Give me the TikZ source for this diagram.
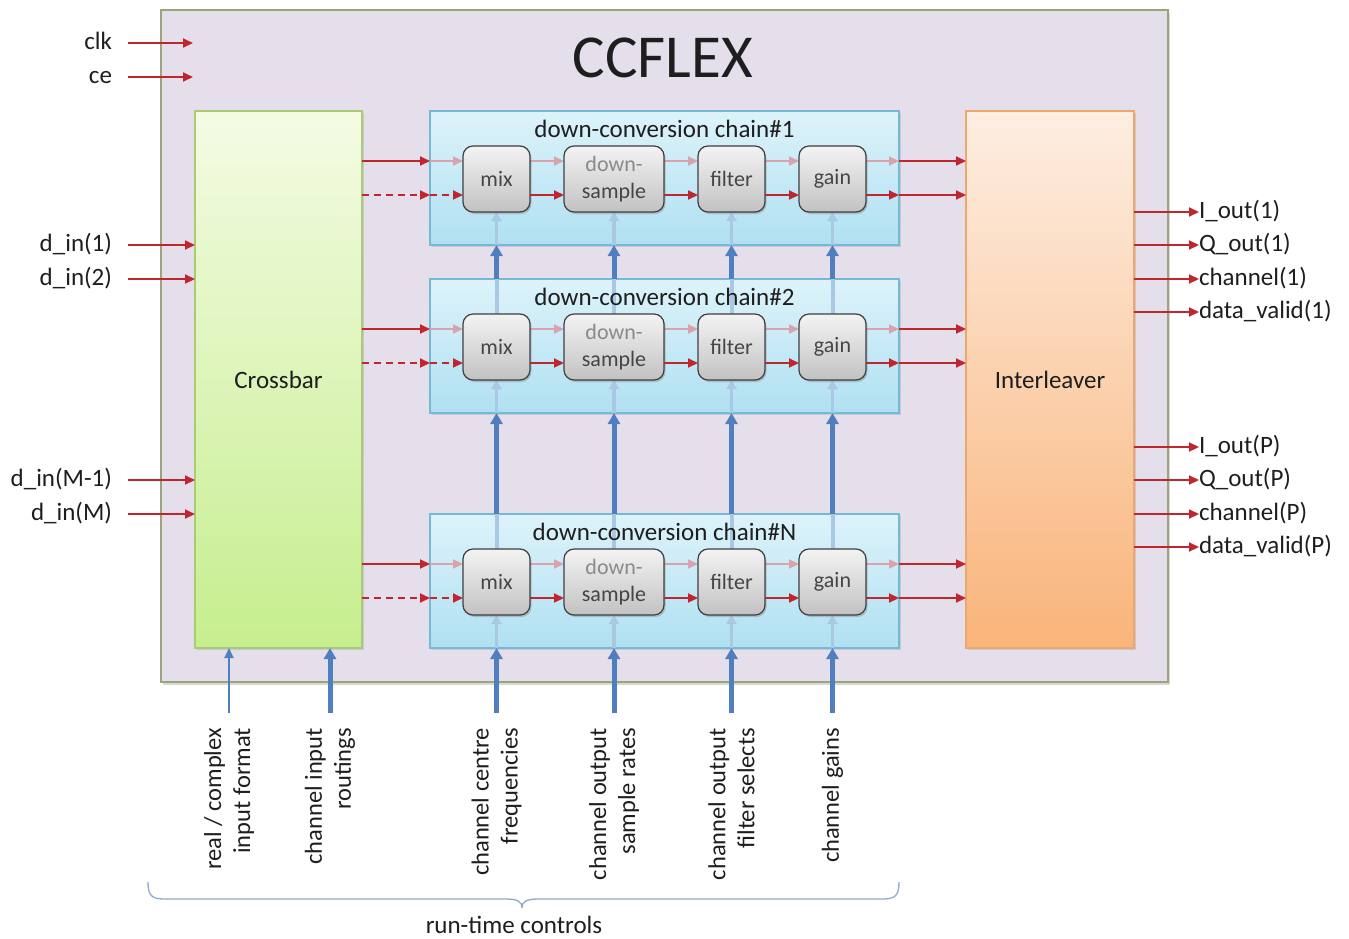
\documentclass[tikz,border=0pt]{standalone}
\usepackage{fontspec}
\setmainfont{Carlito}
\usetikzlibrary{arrows.meta,shadows}
\definecolor{outerfill}{HTML}{E5DFEC}
\definecolor{outerdraw}{HTML}{9AA57C}
\definecolor{redline}{HTML}{C0262E}
\definecolor{pinkline}{HTML}{D9A3AE}
\definecolor{blueline}{HTML}{4F7FBE}
\definecolor{paleblue}{HTML}{A9C8E4}
\definecolor{xbartop}{HTML}{F4FBE4}
\definecolor{xbarbot}{HTML}{C6EE8E}
\definecolor{xbardraw}{HTML}{A9CB73}
\definecolor{intertop}{HTML}{FDEEE2}
\definecolor{interbot}{HTML}{F9B47A}
\definecolor{interdraw}{HTML}{EFA66A}
\definecolor{chaintop}{HTML}{DDF3FA}
\definecolor{chainbot}{HTML}{B0E0F2}
\definecolor{chaindraw}{HTML}{74BAD6}
\definecolor{blocktop}{HTML}{F3F3F3}
\definecolor{blockbot}{HTML}{C2C2C2}
\definecolor{blockdraw}{HTML}{3F3F3F}
\definecolor{txt}{HTML}{1E1E1E}
\definecolor{blocktxt}{HTML}{454545}
\definecolor{fadetxt}{HTML}{8A8A8A}
\definecolor{bracecol}{HTML}{8FA9C9}
\pgfdeclarelayer{boxlayer}
\pgfdeclarelayer{fadelayer}
\pgfsetlayers{boxlayer,fadelayer,main}
\begin{document}
\begin{tikzpicture}[x=1pt,y=-1pt,
  every node/.style={text=txt, inner sep=0pt, outer sep=0pt},
  sidelbl/.style={font=\fontsize{25}{30}\selectfont, text height=17pt, text depth=5pt},
  botlbl/.style={font=\fontsize{24.5}{29}\selectfont, rotate=90, anchor=east, align=right},
  outerbox/.style={draw=outerdraw, line width=1.5pt, fill=outerfill,
    drop shadow={shadow xshift=2pt,shadow yshift=-3pt,opacity=0.3}},
  bigbox/.style={line width=1.2pt, minimum width=168pt, minimum height=537pt,
    font=\fontsize{25}{30}\selectfont,
    drop shadow={shadow xshift=2pt,shadow yshift=-2pt,opacity=0.25}},
  chainbox/.style={draw=chaindraw, line width=1.2pt, top color=chaintop, bottom color=chainbot,
    minimum width=469pt, minimum height=134pt,
    drop shadow={shadow xshift=2pt,shadow yshift=-2pt,opacity=0.25}},
  blk/.style={draw=blockdraw, line width=1.2pt, rounded corners=10pt, top color=blocktop,
    bottom color=blockbot, minimum height=66pt, align=center, text=blocktxt,
    font=\fontsize{22}{27}\selectfont,
    drop shadow={shadow xshift=1.5pt,shadow yshift=-2pt,opacity=0.4}},
  chaintitle/.style={font=\fontsize{25}{30}\selectfont},
  redarr/.style={draw=redline, line width=2pt, -{Triangle[length=10pt,width=9pt]}},
  reddash/.style={redarr, dash pattern=on 7pt off 5pt},
  pinkarr/.style={draw=pinkline, line width=2pt, -{Triangle[length=10pt,width=9pt]}},
  bluearr/.style={draw=blueline, line width=5pt, -{Triangle[length=11pt,width=12pt]}},
  thinblue/.style={draw=blueline, line width=2pt, -{Triangle[length=10pt,width=9pt]}},
  palearr/.style={draw=paleblue, line width=3.5pt, -{Triangle[length=9pt,width=10pt]}},
  paleline/.style={draw=paleblue, line width=4pt}
]
\useasboundingbox (0,0) rectangle (1349,938);

\begin{pgfonlayer}{boxlayer}
\node[outerbox, minimum width=1007pt, minimum height=672pt] (ccflex) at (664.5,346) {};
\node[bigbox, draw=xbardraw, top color=xbartop, bottom color=xbarbot, minimum width=167pt] (xbar) at (278.5,379.5) {Crossbar};
\node[bigbox, draw=interdraw, top color=intertop, bottom color=interbot] (inter) at (1050,379.5) {Interleaver};
\foreach \k/\cy in {1/178,2/346,N/581}{
  \node[chainbox] (chain\k) at (664.5,\cy) {};
}
\end{pgfonlayer}

\node[font=\fontsize{61}{61}\selectfont] (title) at (663,58) {CCFLEX};

% blocks of each chain
\foreach \k/\cy in {1/178,2/346,N/581}{
  \coordinate (ra\k) at (0,\cy-17);
  \coordinate (rb\k) at (0,\cy+17);
  \node[chaintitle] (ct\k) at (664.5,\cy-49) {down-conversion chain\#\k};
  \node[blk, minimum width=67pt] (mix\k) at (496.5,\cy+1) {mix};
  \node[blk, minimum width=100pt] (ds\k) at (614,\cy+1) {\textcolor{fadetxt}{down-}\\sample};
  \node[blk, minimum width=67pt] (flt\k) at (731.5,\cy+1) {filter};
  \node[blk, minimum width=67pt] (gain\k) at (832.5,\cy+1) {gain};
  % faded connectors inside the chain
  \begin{pgfonlayer}{fadelayer}
    \draw[pinkarr] (chain\k.west |- ra\k) -- (mix\k.west |- ra\k);
    \draw[pinkarr] (mix\k.east |- ra\k) -- (ds\k.west |- ra\k);
    \draw[pinkarr] (ds\k.east |- ra\k) -- (flt\k.west |- ra\k);
    \draw[pinkarr] (flt\k.east |- ra\k) -- (gain\k.west |- ra\k);
    \draw[pinkarr] (gain\k.east |- ra\k) -- (chain\k.east |- ra\k);
    \foreach \c in {mix,ds,flt,gain}{
      \draw[palearr] (\c\k.south |- chain\k.south) -- (\c\k.south);
    }
  \end{pgfonlayer}
  % solid connectors
  \draw[redarr] (xbar.east |- ra\k) -- (chain\k.west |- ra\k);
  \draw[reddash] (xbar.east |- rb\k) -- (chain\k.west |- rb\k);
  \draw[reddash] (chain\k.west |- rb\k) -- (mix\k.west |- rb\k);
  \draw[redarr] (mix\k.east |- rb\k) -- (ds\k.west |- rb\k);
  \draw[redarr] (ds\k.east |- rb\k) -- (flt\k.west |- rb\k);
  \draw[redarr] (flt\k.east |- rb\k) -- (gain\k.west |- rb\k);
  \draw[redarr] (gain\k.east |- rb\k) -- (chain\k.east |- rb\k);
  \draw[redarr] (chain\k.east |- ra\k) -- (inter.west |- ra\k);
  \draw[redarr] (chain\k.east |- rb\k) -- (inter.west |- rb\k);
}

% faded control lines above the blocks of chains 2 and N
\begin{pgfonlayer}{fadelayer}
\foreach \k in {2,N}{
  \foreach \c in {mix,ds,flt,gain}{
    \draw[paleline] (\c\k.north) -- (\c\k.north |- chain\k.north);
  }
}
\end{pgfonlayer}

% thick control arrows between chains
\foreach \c in {mix,ds,flt,gain}{
  \draw[bluearr] (\c N.north |- chainN.north) -- (\c N.north |- chain2.south);
  \draw[bluearr] (\c 2.north |- chain2.north) -- (\c 2.north |- chain1.south);
}

% inputs
\node[sidelbl, anchor=east] (clk) at (112,43) {clk};
\node[sidelbl, anchor=east] (ce) at (112,77) {ce};
\coordinate (clkend) at (193,43);
\coordinate (ceend) at (193,77);
\draw[redarr] ([xshift=16pt]clk.east) -- (clkend);
\draw[redarr] ([xshift=16pt]ce.east) -- (ceend);
\foreach \n/\y/\t in {din1/245/d\_in(1), din2/279/d\_in(2), dinm/480/d\_in(M-1), dinM/514/d\_in(M)}{
  \node[sidelbl, anchor=east] (\n) at (112,\y) {\t};
  \draw[redarr] ([xshift=16pt]\n.east) -- (xbar.west |- \n.east);
}

% outputs
\foreach \n/\y/\t in {iout1/212/I\_out(1), qout1/245/Q\_out(1), chan1/279/channel(1), dv1/312/data\_valid(1),
                     ioutP/447/I\_out(P), qoutP/480/Q\_out(P), chanP/514/channel(P), dvP/547/data\_valid(P)}{
  \node[sidelbl, anchor=west] (\n) at (1199,\y) {\t};
  \draw[redarr] (inter.east |- \n.west) -- (\n.west);
}

% run-time controls
\coordinate (labline) at (0,728);
\node[botlbl] (lab1) at (229,728) {real / complex\\input format};
\node[botlbl] (lab2) at (330,728) {channel input\\routings};
\node[botlbl] (lab3) at (mixN |- labline) {channel centre\\frequencies};
\node[botlbl] (lab4) at (dsN |- labline) {channel output\\sample rates};
\node[botlbl] (lab5) at (fltN |- labline) {channel output\\filter selects};
\node[botlbl] (lab6) at (gainN |- labline) {channel gains};
\draw[thinblue] ([yshift=15pt]lab1.east) -- (lab1.east |- xbar.south);
\draw[bluearr] ([yshift=15pt]lab2.east) -- (lab2.east |- xbar.south);
\foreach \l in {lab3,lab4,lab5,lab6}{
  \draw[bluearr] ([yshift=15pt]\l.east) -- (\l.east |- chainN.south);
}

\draw[bracecol, line width=1.3pt] (148,882) .. controls (148,896) and (152,899) .. (165,899)
  -- (505,899) .. controls (517,899) and (522,901) .. (522,908)
  .. controls (522,901) and (527,899) .. (539,899)
  -- (882,899) .. controls (895,899) and (899,896) .. (899,882);
\node[font=\fontsize{25}{30}\selectfont] (rtc) at (514,925) {run-time controls};
\end{tikzpicture}
\end{document}
